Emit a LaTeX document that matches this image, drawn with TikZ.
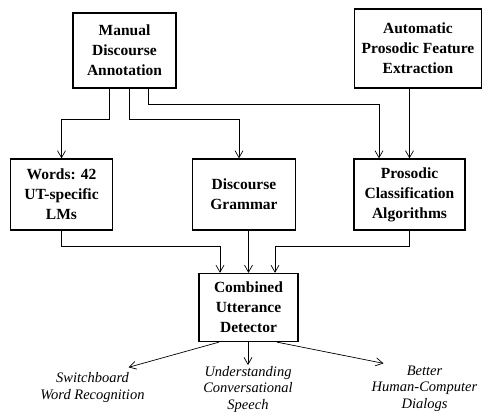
\documentclass[tikz,border=0pt]{standalone}
\usepackage{fontspec}
\setmainfont{Liberation Serif}
\usetikzlibrary{arrows.meta}
\begin{document}
\begin{tikzpicture}[x=1pt,y=-1pt,->,>={Straight Barb[length=7pt,width=8pt]},line width=0.7pt]
        \tikzstyle{box}=[draw=black,line width=1.3pt,align=center,inner sep=0pt,font=\fontsize{15.5}{20}\selectfont\bfseries]
        \tikzstyle{goal}=[align=center,inner sep=1pt,font=\fontsize{14.5}{16.5}\selectfont\itshape]
        \path[use as bounding box] (0,0) rectangle (483,412);
        \node[box,minimum width=103pt,minimum height=75pt] (1) at (124.5,50.5) {Manual\\Discourse\\Annotation};
        \node[box,minimum width=127pt,minimum height=79pt] (2) at (418,48.5)   {Automatic\\Prosodic Feature\\Extraction};
        \node[box,minimum width=102pt,minimum height=71pt] (3) at (61.5,194.5) {Words: 42\\UT-specific\\LMs};
        \node[box,minimum width=103pt,minimum height=71pt] (4) at (244,194.5)  {Discourse\\Grammar};
        \node[box,minimum width=111pt,minimum height=71pt] (5) at (409.5,194.5) {Prosodic\\Classification\\Algorithms};
        \node[box,minimum width=99pt,minimum height=68pt]  (6) at (248.5,307.5) {Combined\\Utterance\\Detector};
        \node[goal] (o1) at (92.5,387.5) {Switchboard\\Word Recognition};
        \node[goal] (o2) at (248,389.5)  {Understanding\\Conversational\\Speech};
        \node[goal] (o3) at (424.5,388.5) {Better\\Human-Computer\\Dialogs};
        % annotation and features feed the models
        \draw ([xshift=-15.5pt]1.south) -- ++(0,31) -| (3.north);
        \draw ([xshift=4.5pt]1.south) -- ++(0,31) -| ([xshift=-5pt]4.north);
        \draw ([xshift=23.5pt]1.south) -- ++(0,16) -| ([xshift=-30.5pt]5.north);
        \draw (2.south -| 5.north) -- (5.north);
        % models feed the detector
        \draw (3.south) -- ++(0,16) -| ([xshift=-28.5pt]6.north);
        \draw (4.south -| 6.north) -- (6.north);
        \draw (5.south) -- ++(0,16) -| ([xshift=26.5pt]6.north);
        % uses
        \draw ([xshift=-29.5pt]6.south) -- ([xshift=36pt,yshift=4pt]o1.north);
        \draw (6.south -| o2.north) -- (o2.north);
        \draw ([xshift=28.5pt]6.south) -- ([xshift=-41pt,yshift=1pt]o3.north);
\end{tikzpicture}
\end{document}
